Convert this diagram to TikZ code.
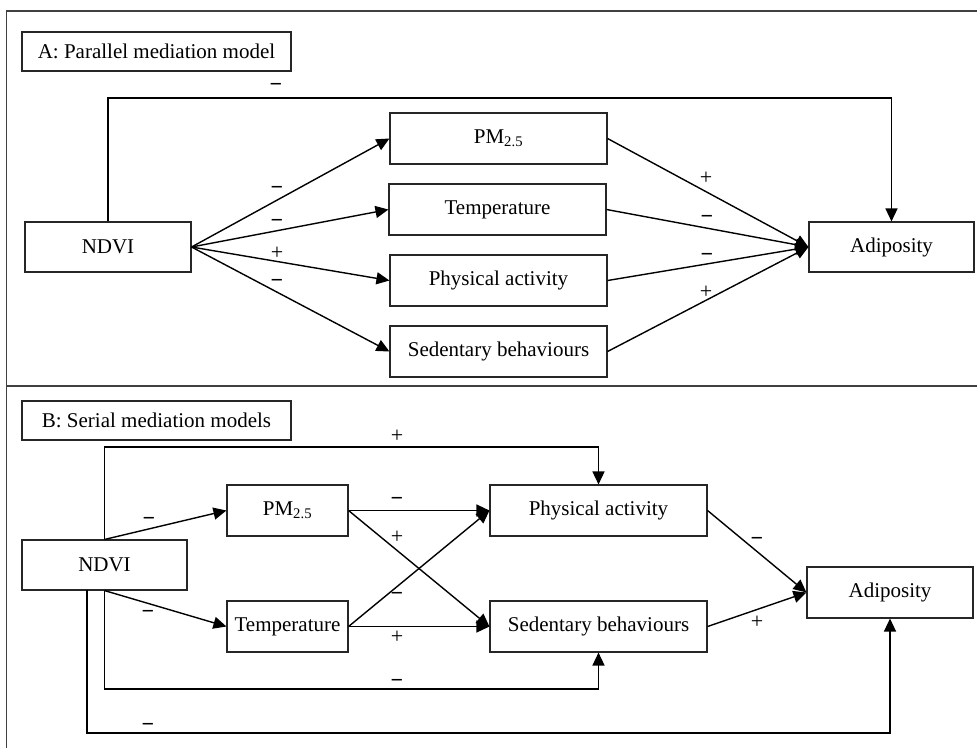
\documentclass[tikz,border=0pt]{standalone}
\usepackage{fontspec}
\setmainfont{Liberation Serif}
\usetikzlibrary{arrows.meta}
\begin{document}
\begin{tikzpicture}[x=1pt,y=-1pt,
  box/.style={draw=black!85,line width=1.1pt,fill=white,inner sep=0pt,font=\fontsize{21}{25}\selectfont},
  arr/.style={line width=1.4pt,-{Triangle[length=13pt,width=12pt]}},
  sgn/.style={inner sep=0pt,font=\fontsize{22}{26}\selectfont},
  neg/.style={inner sep=0pt,font=\fontsize{22}{26}\selectfont\bfseries},
  frame/.style={draw=black!75,line width=1.4pt}]
\useasboundingbox (0,0) rectangle (977,748);
% frame
\draw[frame] (6.5,748) -- (6.5,11) -- (977,11);
\draw[frame] (6.5,386) -- (977,386);
% ---------- Panel A ----------
\node[box,minimum width=269,minimum height=39] (titleA) at (156.5,51.5) {A: Parallel mediation model};
\node[box,minimum width=166,minimum height=50] (ndviA) at (108,247) {NDVI};
\node[box,minimum width=217,minimum height=51] (pmA) at (498.5,138.5) {PM\textsubscript{2.5}};
\node[box,minimum width=217,minimum height=51] (tempA) at (497.5,209.5) {Temperature};
\node[box,minimum width=217,minimum height=51] (paA) at (498.5,280.5) {Physical activity};
\node[box,minimum width=217,minimum height=51] (sedA) at (498.5,351.5) {Sedentary behaviours};
\node[box,minimum width=165,minimum height=50] (adipA) at (891.5,247) {Adiposity};
\coordinate (tA1) at (108,98);
\coordinate (tA2) at (891.5,98);
\draw[arr] (ndviA.north) -- (tA1) -- (tA2) -- (adipA.north);
\draw[arr] (ndviA.east) -- (pmA.west);
\draw[arr] (ndviA.east) -- (tempA.west);
\draw[arr] (ndviA.east) -- (paA.west);
\draw[arr] (ndviA.east) -- (sedA.west);
\draw[arr] (pmA.east) -- (adipA.west);
\draw[arr] (tempA.east) -- (adipA.west);
\draw[arr] (paA.east) -- (adipA.west);
\draw[arr] (sedA.east) -- (adipA.west);
\node[neg] (sA0) at (276,87) {−};
\node[neg] (sA1) at (277,190) {−};
\node[neg] (sA2) at (277,223) {−};
\node[sgn] (sA3) at (277,253) {+};
\node[neg] (sA4) at (277,283) {−};
\node[sgn] (sA5) at (706,178) {+};
\node[neg] (sA6) at (707,219) {−};
\node[neg] (sA7) at (707,257) {−};
\node[sgn] (sA8) at (706,292) {+};
% ---------- Panel B ----------
\node[box,minimum width=269,minimum height=39] (titleB) at (156.5,420.5) {B: Serial mediation models};
\node[box,minimum width=165,minimum height=50] (ndviB) at (104.5,565) {NDVI};
\node[box,minimum width=121,minimum height=51] (pmB) at (287.5,510.5) {PM\textsubscript{2.5}};
\node[box,minimum width=121,minimum height=51] (tempB) at (287.5,626.5) {Temperature};
\node[box,minimum width=217,minimum height=51] (paB) at (598.5,510.5) {Physical activity};
\node[box,minimum width=217,minimum height=51] (sedB) at (598.5,626.5) {Sedentary behaviours};
\node[box,minimum width=166,minimum height=51] (adipB) at (890,592.5) {Adiposity};
\coordinate (tB1) at (104.5,447);
\coordinate (tB2) at (598.5,447);
\draw[arr] (ndviB.north) -- (tB1) -- (tB2) -- (paB.north);
\coordinate (bB1) at (104.5,689);
\coordinate (bB2) at (598.5,689);
\draw[arr] (ndviB.south) -- (bB1) -- (bB2) -- (sedB.south);
\coordinate (oB0) at (87,590);
\coordinate (oB1) at (87,733);
\coordinate (oB2) at (890,733);
\draw[arr] (oB0) -- (oB1) -- (oB2) -- (adipB.south);
\draw[arr] (ndviB.north) -- (pmB.west);
\draw[arr] (ndviB.south) -- (tempB.west);
\draw[arr] (pmB.east) -- (paB.west);
\draw[arr] (pmB.east) -- (sedB.west);
\draw[arr] (tempB.east) -- (paB.west);
\draw[arr] (tempB.east) -- (sedB.west);
\draw[arr] (paB.east) -- (adipB.west);
\draw[arr] (sedB.east) -- (adipB.west);
\node[sgn] (sB0) at (397,436) {+};
\node[neg] (sB1) at (149,521) {−};
\node[neg] (sB2) at (148,614) {−};
\node[neg] (sB3) at (397,501) {−};
\node[sgn] (sB4) at (397,537) {+};
\node[neg] (sB5) at (397,596) {−};
\node[sgn] (sB6) at (397,637) {+};
\node[neg] (sB7) at (397,683) {−};
\node[neg] (sB8) at (148,727) {−};
\node[neg] (sB9) at (757,541) {−};
\node[sgn] (sB10) at (757,622) {+};
\end{tikzpicture}
\end{document}
